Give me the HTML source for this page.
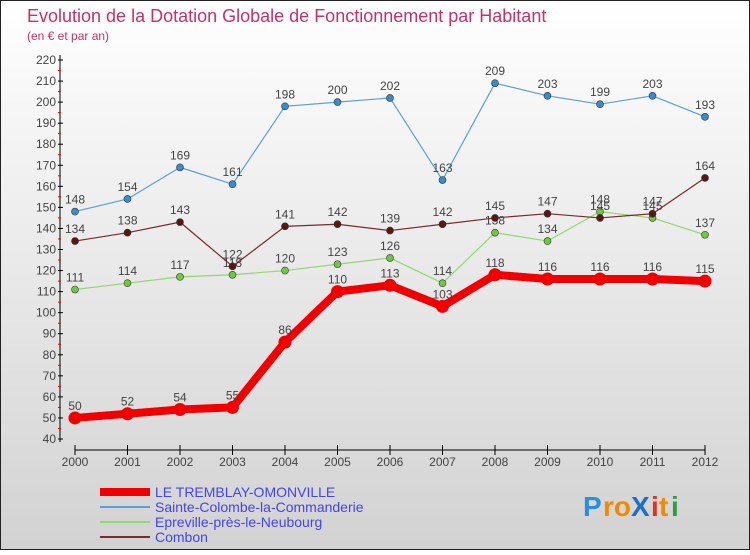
<!DOCTYPE html>
<html><head><meta charset="utf-8"><style>
body{margin:0}
#c{width:750px;height:550px;position:relative;font-family:"Liberation Sans",sans-serif}
</style></head><body>
<div id="c">
<svg width="750" height="550" id="svg">
<defs><linearGradient id="bg" x1="0" y1="0" x2="0" y2="1"><stop offset="0" stop-color="#ffffff"/><stop offset="1" stop-color="#d2d2d2"/></linearGradient></defs>
<rect x="0.5" y="0.5" width="749" height="549" fill="url(#bg)" stroke="#222"/>
<text x="27" y="22" font-size="18" fill="#c8306a">Evolution de la Dotation Globale de Fonctionnement par Habitant</text>
<text x="27" y="40" font-size="12" fill="#c8306a">(en € et par an)</text>
<g id="axes"></g><g id="series"></g><g id="legend"></g>
<g font-size="28" font-weight="bold">
<text x="583" y="516" fill="#2a8fd8">P</text><text x="603" y="516" fill="#f08a00">ro</text><text x="631" y="516" fill="#1a6fd0">X</text><text x="651" y="516" fill="#e53020">i</text><text x="659" y="516" fill="#f08a00">t</text><text x="671" y="516" fill="#2aa040">i</text>
</g>
</svg>
</div>
<script>
const years=[2000,2001,2002,2003,2004,2005,2006,2007,2008,2009,2010,2011,2012];
const tremblay=[50,52,54,55,86,110,113,103,118,116,116,116,115];
const colombe=[148,154,169,161,198,200,202,163,209,203,199,203,193];
const epreville=[111,114,117,118,120,123,126,114,138,134,148,145,137];
const combon=[134,138,143,122,141,142,139,142,145,147,145,147,164];
const yTicks=[40,50,60,70,80,90,100,110,120,130,140,150,160,170,180,190,200,210,220];
const NS="http://www.w3.org/2000/svg";
const X=i=>75+i*52.5;
const Y=v=>439-(v-40)*(379/180);
function mk(tag,attrs,parent,text){const e=document.createElementNS(NS,tag);for(const k in attrs)e.setAttribute(k,attrs[k]);if(text!==undefined)e.textContent=text;parent.appendChild(e);return e;}
const ax=document.getElementById('axes');
let yl=mk('line',{x1:60,y1:55,x2:60,y2:442,stroke:'#000'},ax);


yTicks.forEach(v=>{
 mk('line',{x1:58,y1:Y(v),x2:63,y2:Y(v),stroke:'#000'},ax);
 const t=mk('text',{x:56,y:Y(v)+4,'font-size':12,'text-anchor':'end',fill:'#444'},ax,v);
 
 
 if(v<220)mk('line',{x1:58,y1:Y(v+5),x2:61,y2:Y(v+5),stroke:'#e00'},ax);
});
let xl=mk('line',{x1:X(0),y1:450,x2:X(12),y2:450,stroke:'#000'},ax);


years.forEach((y,i)=>{
 mk('line',{x1:X(i),y1:445,x2:X(i),y2:455,stroke:'#000'},ax);
 const t=mk('text',{x:X(i),y:466,'font-size':12,'text-anchor':'middle',fill:'#444'},ax,y);
 
 
});
const sg=document.getElementById('series');
function draw(data,color,dot,w,r,name){
 const g=mk('g',{},sg);
 
 
 const p=mk('polyline',{points:data.map((v,i)=>X(i)+','+Y(v)).join(' '),fill:'none',stroke:color,'stroke-width':w,'stroke-linejoin':'round'},g);
 
 
 data.forEach((v,i)=>{
  const c=mk('circle',{cx:X(i),cy:Y(v),r:r,fill:dot,stroke:'#333','stroke-width':r>5?0:0.6},g);
  
  
  const t=mk('text',{x:X(i),y:Y(v)-8,'font-size':12,'text-anchor':'middle',fill:'#444'},g,v);
  
  
 });
}
draw(colombe,'#5aa0d8','#3a8ad0',1.2,3.5,'sainte-colombe');
draw(epreville,'#90d870','#70c840',1.2,3.5,'epreville');
draw(combon,'#7a2a2a','#5a1515',1.2,3.5,'combon');
draw(tremblay,'#f00000','#f00000',8,6.5,'tremblay');
const lg=document.getElementById('legend');
const items=[['LE TREMBLAY-OMONVILLE','#f00000',8],['Sainte-Colombe-la-Commanderie','#5aa0d8',2],['Epreville-près-le-Neubourg','#90d870',2],['Combon','#7a2a2a',2]];
items.forEach((it,i)=>{
 const y=492+i*15;
 const g=mk('g',{},lg);
 
 
 mk('line',{x1:100,y1:y,x2:150,y2:y,stroke:it[1],'stroke-width':it[2]},g);
 mk('text',{x:155,y:y+5,'font-size':14,fill:'#4444ee'},g,it[0]);
});
</script>
</body></html>
